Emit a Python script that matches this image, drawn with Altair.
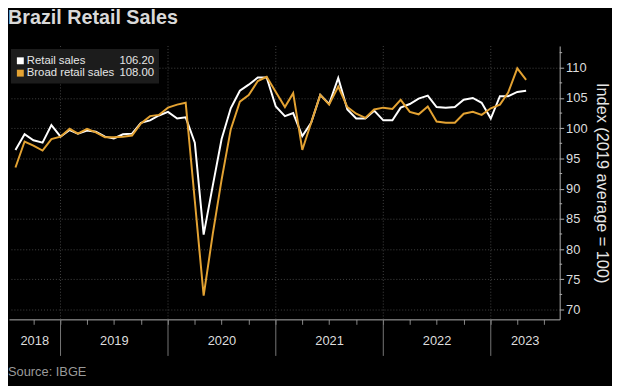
import altair as alt
import pandas as pd

# ---- data (monthly, Jul 2018 - Apr 2023) ----
months = pd.period_range("2018-07", "2023-04", freq="M").strftime("%Y-%m").tolist()

retail = [
    96.4, 99.0, 98.0, 97.6, 100.5, 98.6,
    99.7, 99.1, 99.6, 99.4, 98.6, 98.3, 99.0, 99.1, 100.9, 101.3, 102.1, 102.7,
    101.6, 101.8, 97.6, 82.4, 90.5, 98.2, 103.3, 106.2, 107.2, 108.4, 108.4, 103.6,
    102.0, 102.5, 98.7, 100.9, 105.5, 104.0, 108.3, 103.1, 101.6, 101.6, 102.9, 101.3,
    101.3, 103.4, 104.0, 104.9, 105.4, 103.5, 103.4, 103.5, 104.7, 105.0, 104.2, 101.6,
    105.3, 105.3, 106.0, 106.2,
]
broad = [
    93.5, 97.8, 97.1, 96.3, 98.2, 98.6,
    99.9, 99.1, 99.9, 99.3, 98.5, 98.5, 98.6, 98.8, 100.8, 102.0, 102.2, 103.4,
    103.9, 104.2, 88.0, 72.3, 82.5, 91.5, 99.8, 104.4, 105.5, 107.8, 108.5, 106.0,
    103.5, 105.8, 96.4, 100.9, 105.5, 103.9, 106.9, 103.5, 102.4, 101.7, 103.1, 103.4,
    103.2, 104.7, 102.7, 102.3, 103.6, 101.1, 100.9, 100.9, 102.4, 102.7, 102.2, 103.3,
    103.9, 105.9, 109.9, 108.0,
]
series_names = ["Retail sales", "Broad retail sales"]
series_colors = ["#ffffff", "#e3a232"]
years = ["2018", "2019", "2020", "2021", "2022", "2023"]
y_ticks = [70, 75, 80, 85, 90, 95, 100, 105, 110]

# ---- layout ----
W, H = 558, 277
FONT = "Liberation Sans"
x_start = pd.Timestamp("2018-07-10")
x_end = pd.Timestamp("2023-08-23")

# points placed at month end
dates = [(pd.Period(m, freq="M").end_time.normalize() + pd.Timedelta(days=1)) for m in months]
df = pd.DataFrame({"date": dates, "retail": retail, "broad": broad})

xscale = alt.Scale(domain=[alt.DateTime(year=2018, month=7, date=10),
                           alt.DateTime(year=2023, month=8, date=23)])
yscale = alt.Scale(domain=[68.37, 113.6], nice=False, zero=False)

quarter_ticks = [alt.DateTime(year=d.year, month=d.month, date=1)
                 for d in pd.date_range("2018-10-01", "2023-07-01", freq="QS")]

xaxis = alt.Axis(values=quarter_ticks, labels=False, title=None, grid=False,
                 tickSize=5, tickColor="#888888", domainColor="#b0b0b0", domainWidth=1)
yaxis = alt.Axis(orient="right", values=y_ticks, grid=True, gridColor="#444444",
                 gridDash=[1, 2], tickSize=4, tickColor="#b0b0b0", domainColor="#b0b0b0",
                 labelColor="#dddddd", labelFontSize=13, labelFont=FONT, labelPadding=2,
                 labelOverlap=False, labelBound=False, tickCount=9,
                 title="Index (2019 average = 100)", titleFontSize=16.5, titleFont=FONT,
                 titleColor="#e6e6e6", titleFontWeight="normal", titlePadding=7)


def X(field="date:T"):
    return alt.X(field, scale=xscale, axis=xaxis)


def Y(field):
    return alt.Y(field, scale=yscale, axis=yaxis)


base = alt.Chart(df)

white_line = base.mark_line(color=series_colors[0], strokeWidth=2).encode(
    x=X(), y=Y("retail:Q"))
gold_line = base.mark_line(color=series_colors[1], strokeWidth=2).encode(
    x=X(), y=Y("broad:Q"))

# year boundaries
bounds = pd.DataFrame({"date": [pd.Timestamp(f"{y}-01-01") for y in years[1:]]})
vgrid = alt.Chart(bounds).mark_rule(color="#444444", strokeDash=[1, 2]).encode(
    x=X(), y=alt.value(0), y2=alt.value(H))
seps = alt.Chart(bounds).mark_rule(color="#777777").encode(
    x=X(), y=alt.value(H), y2=alt.value(H + 37))

# year labels centred on visible part of each year
label_dates = []
for y in years:
    a = max(pd.Timestamp(f"{y}-01-01"), x_start)
    b = min(pd.Timestamp(f"{int(y)+1}-01-01"), x_end)
    label_dates.append(a + (b - a) / 2)
ylab = pd.DataFrame({"date": label_dates, "year": years})
year_text = alt.Chart(ylab).mark_text(fontSize=13, font=FONT, color="#dddddd",
                                      baseline="alphabetic", align="center").encode(
    x=X(), y=alt.value(H + 26), text="year:N")

# minor y ticks
minor = pd.DataFrame({"v": [t + 2.5 for t in y_ticks]})
minor_ticks = alt.Chart(minor).mark_rule(color="#b0b0b0").encode(
    y=Y("v:Q"), x=alt.value(W), x2=alt.value(W + 2.5))

one = pd.DataFrame({"a": [0]})
# legend box
leg_box = alt.Chart(one).mark_rect(color="#1c1c1c").encode(
    x=alt.value(2), x2=alt.value(152), y=alt.value(3), y2=alt.value(38))
leg_layers = [leg_box]
for i, (name, col, vals) in enumerate(zip(series_names, series_colors, [retail, broad])):
    yy = 15 + 12.5 * i
    leg_layers.append(alt.Chart(one).mark_square(size=49, color=col, opacity=1).encode(
        x=alt.value(11.5), y=alt.value(yy)))
    leg_layers.append(alt.Chart(one).mark_text(text=name, align="left", baseline="middle",
                                               fontSize=11.5, font=FONT, color="#e6e6e6").encode(
        x=alt.value(18), y=alt.value(yy)))
    leg_layers.append(alt.Chart(one).mark_text(text=f"{vals[-1]:.2f}", align="right",
                                               baseline="middle", fontSize=11.5, font=FONT,
                                               color="#e6e6e6").encode(
        x=alt.value(147), y=alt.value(yy)))

title = alt.Chart(one).mark_text(text="Brazil Retail Sales", align="left", baseline="alphabetic",
                                 fontSize=20, fontWeight="bold", font=FONT, color="#d9d9d9").encode(
    x=alt.value(-1), y=alt.value(-22))
source = alt.Chart(one).mark_text(text="Source: IBGE", align="left", baseline="alphabetic",
                                  fontSize=13, font=FONT, color="#9a9a9a").encode(
    x=alt.value(-1), y=alt.value(H + 57))

chart = alt.layer(
    vgrid, white_line, gold_line, seps, year_text, minor_ticks, *leg_layers, title, source
).properties(
    width=W, height=H,
    autosize=alt.AutoSizeParams(type="none"),
    padding={"left": 1, "top": 36, "right": 53, "bottom": 65},
    background="#000000",
).configure_view(stroke=None)

chart.save("out.html", embed_options={"renderer": "svg", "actions": False})
